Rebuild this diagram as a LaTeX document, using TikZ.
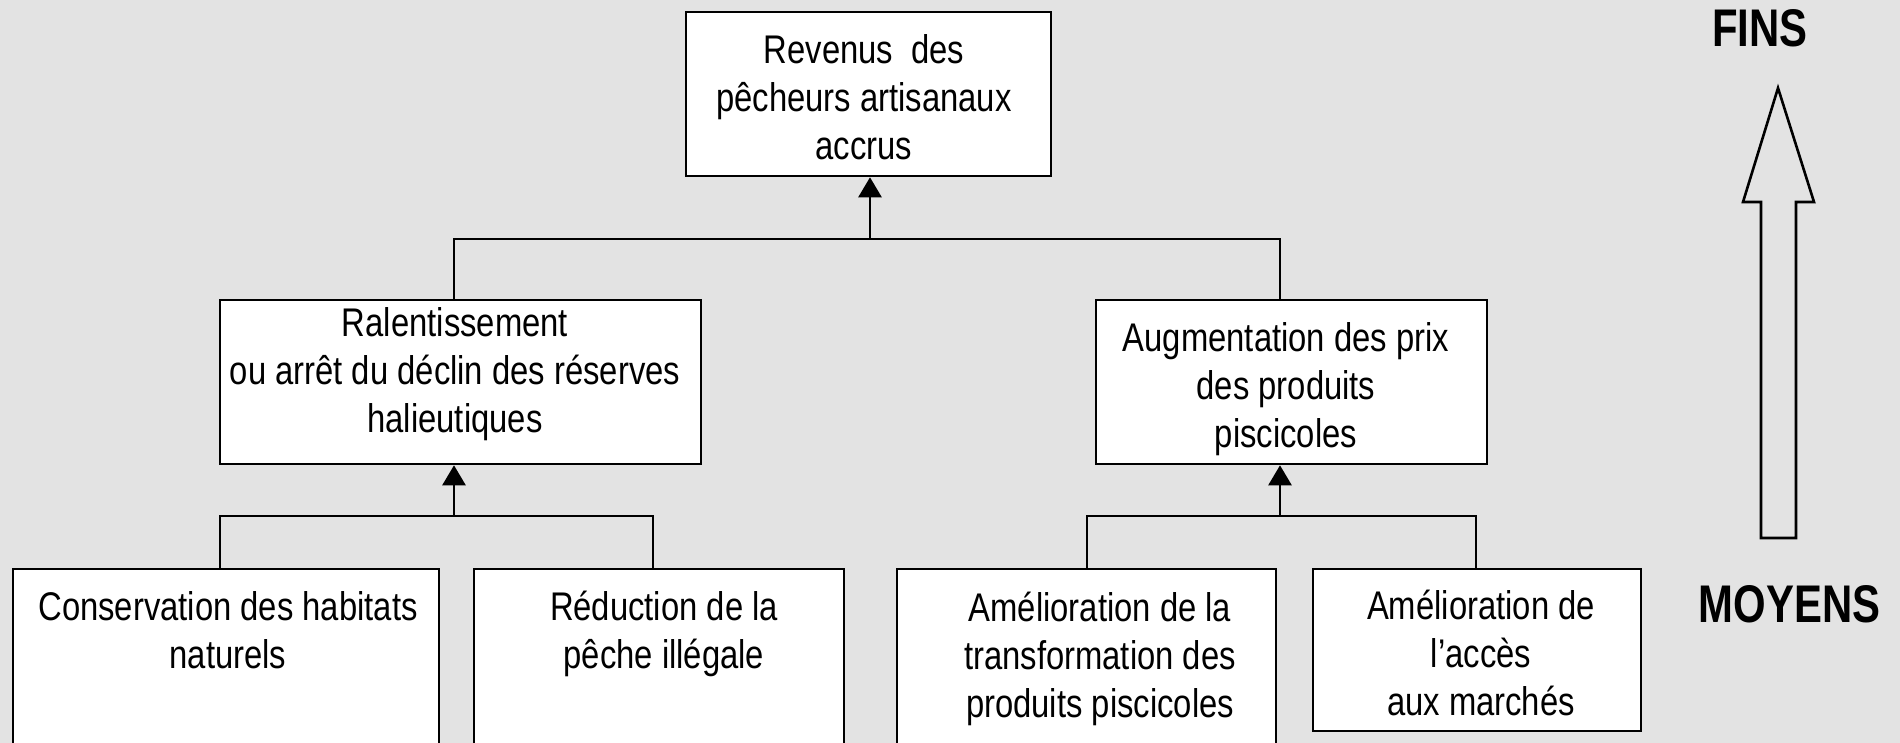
\documentclass[tikz,border=0pt]{standalone}
\usepackage{fontspec}
\usetikzlibrary{arrows.meta}
\newfontfamily\boxfont{Liberation Sans}[FakeStretch=0.82]
\newfontfamily\tagfont{Liberation Sans}[FakeStretch=0.79]
\definecolor{paper}{RGB}{227,227,227}
\begin{document}
\begin{tikzpicture}[x=1pt,y=-1pt,
  frame/.style={draw=black,line width=2.6pt,fill=white,rectangle,inner sep=0pt},
  caption/.style={font=\boxfont\fontsize{40}{48}\selectfont,align=center,inner sep=0pt,anchor=base},
  tag/.style={font=\tagfont\bfseries\fontsize{53}{60}\selectfont,inner sep=0pt,anchor=base},
  link/.style={line width=2.6pt,line cap=rect},
  up/.style={line width=2.6pt,-{Triangle[width=23pt,length=20pt]}}]
  \path[use as bounding box,clip] (0,0) rectangle (1900,743);
  \fill[paper] (0,0) rectangle (1900,743);

  % boxes
  \node[frame,minimum width=365pt,minimum height=164pt] (top) at (868.5,94) {};
  \node[frame,minimum width=481pt,minimum height=164pt] (lmid) at (460.5,382) {};
  \node[frame,minimum width=391pt,minimum height=164pt] (rmid) at (1291.5,382) {};
  \node[frame,minimum width=426pt,minimum height=211pt] (b1) at (226,674.5) {};
  \node[frame,minimum width=370pt,minimum height=211pt] (b2) at (659,674.5) {};
  \node[frame,minimum width=379pt,minimum height=211pt] (b3) at (1086.5,674.5) {};
  \node[frame,minimum width=328pt,minimum height=162pt] (b4) at (1477,650) {};

  % texts (anchored on the baseline of their last line)
  \node[caption] (ttop) at (864,160) {Revenus\ \ des\\pêcheurs artisanaux\\accrus};
  \node[caption] (tlmid) at (455,432) {Ralentissement\\ou arrêt du déclin des réserves\\halieutiques};
  \node[caption] (trmid) at (1286,447) {Augmentation des prix\\des produits\\piscicoles};
  \node[caption] (tb1) at (228,668) {Conservation des habitats\\naturels};
  \node[caption] (tb2) at (664,668) {Réduction de la\\pêche illégale};
  \node[caption] (tb3) at (1100,717) {Amélioration de la\\transformation des\\produits piscicoles};
  \node[caption] (tb4) at (1481,715) {Amélioration de\\l’accès\\aux marchés};

  % junction points
  \coordinate (jt) at (870,239);
  \coordinate (jtl) at (454,239);
  \coordinate (jtr) at (1280,239);
  \coordinate (jl) at (454,516);
  \coordinate (jll) at (220,516);
  \coordinate (jlr) at (653,516);
  \coordinate (jr) at (1280,516);
  \coordinate (jrl) at (1087,516);
  \coordinate (jrr) at (1476,516);

  % connectors
  \draw[link] (jtl |- lmid.north) -- (jtl) -- (jtr) -- (jtr |- rmid.north);
  \draw[up] (jt) -- (jt |- top.south);
  \draw[link] (jll |- b1.north) -- (jll) -- (jlr) -- (jlr |- b2.north);
  \draw[up] (jl) -- (jl |- lmid.south);
  \draw[link] (jrl |- b3.north) -- (jrl) -- (jrr) -- (jrr |- b4.north);
  \draw[up] (jr) -- (jr |- rmid.south);

  % ends and means
  \node[tag] (fins) at (1760,47) {FINS};
  \node[tag] (moyens) at (1789.5,622) {MOYENS};
  \draw[line width=2.6pt,line join=miter]
    (1761,538) -- (1761,202) -- (1743,202) -- (1778,88) -- (1814,202)
    -- (1796,202) -- (1796,538) -- cycle;
\end{tikzpicture}
\end{document}
